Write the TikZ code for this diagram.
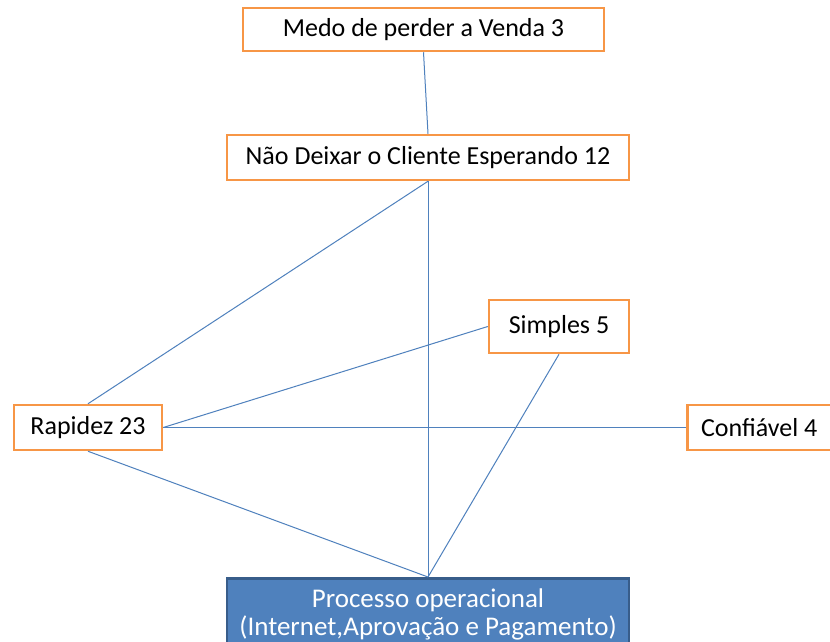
\documentclass[tikz,border=0pt]{standalone}
\usepackage{fontspec}
\setmainfont{Carlito}
\definecolor{orng}{HTML}{F79646}
\definecolor{lblue}{HTML}{4F81BD}
\definecolor{dblue}{HTML}{385D8A}
\begin{document}
\begin{tikzpicture}[x=1pt,y=-1pt,
  obox/.style={draw=orng,line width=2.5pt,fill=white,inner sep=0pt,font=\fontsize{26}{30}\selectfont},
  conn/.style={draw=lblue,line width=1pt}]
\useasboundingbox (0,0) rectangle (830,641);
\clip (0,0) rectangle (830,641);
\fill[white] (0,0) rectangle (830,641);
\node[obox,minimum width=361pt,minimum height=43pt] (medo) at (423.5,29.5) {Medo de perder a Venda 3};
\node[obox,minimum width=402pt,minimum height=45pt] (nao) at (428,157.5) {Não Deixar o Cliente Esperando 12};
\node[obox,minimum width=140pt,minimum height=53pt] (simples) at (559,326.5) {Simples 5};
\node[obox,minimum width=148pt,minimum height=45pt] (rapidez) at (88,427.5) {Rapidez 23};
\node[obox,minimum width=150pt,minimum height=45pt,anchor=west] (conf) at (686,427.5) {\hspace*{-6pt}Confiável 4};
\node[draw=dblue,fill=lblue,line width=2.5pt,text=white,align=center,inner sep=0pt,
  minimum width=402pt,minimum height=72pt,anchor=north,font=\fontsize{27}{28}\selectfont] (proc) at (428,577)
  {Processo operacional\\(Internet,Aprovação e Pagamento)};
\draw[conn] (medo.south) -- (nao.north);
\draw[conn] (nao.south) -- (proc.north);
\draw[conn] (nao.south) -- (rapidez.north);
\draw[conn] (rapidez.east) -- (simples.west);
\draw[conn] (rapidez.east) -- (conf.west);
\draw[conn] (rapidez.south) -- (proc.north);
\draw[conn] (simples.south) -- (proc.north);
\end{tikzpicture}
\end{document}
